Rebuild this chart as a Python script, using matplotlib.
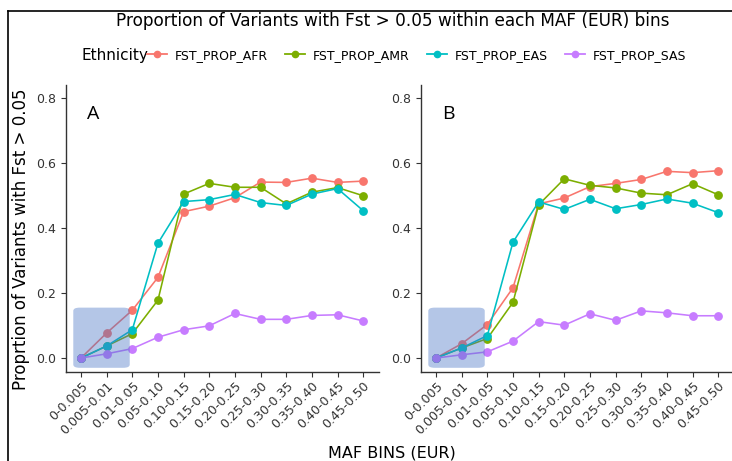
import matplotlib.pyplot as plt
from matplotlib.patches import FancyBboxPatch
from matplotlib.lines import Line2D

# MAF bins on the x axis
bins = ["0-0.005", "0.005-0.01", "0.01-0.05", "0.05-0.10", "0.10-0.15", "0.15-0.20",
        "0.20-0.25", "0.25-0.30", "0.30-0.35", "0.35-0.40", "0.40-0.45", "0.45-0.50"]

# Panel A
afr_a = [0.0, 0.077, 0.147, 0.248, 0.450, 0.467, 0.493, 0.541, 0.540, 0.553, 0.540, 0.544]
amr_a = [0.0, 0.037, 0.075, 0.178, 0.504, 0.537, 0.525, 0.525, 0.474, 0.510, 0.524, 0.499]
eas_a = [0.0, 0.037, 0.087, 0.353, 0.481, 0.487, 0.503, 0.478, 0.469, 0.504, 0.521, 0.453]
sas_a = [0.0, 0.013, 0.029, 0.064, 0.087, 0.099, 0.137, 0.119, 0.119, 0.131, 0.133, 0.114]

# Panel B
afr_b = [0.0, 0.044, 0.103, 0.216, 0.474, 0.492, 0.527, 0.537, 0.549, 0.574, 0.570, 0.576]
amr_b = [0.0, 0.031, 0.060, 0.171, 0.471, 0.551, 0.531, 0.523, 0.507, 0.502, 0.536, 0.502]
eas_b = [0.0, 0.031, 0.069, 0.356, 0.480, 0.457, 0.488, 0.459, 0.472, 0.489, 0.476, 0.447]
sas_b = [0.0, 0.010, 0.019, 0.052, 0.112, 0.101, 0.136, 0.116, 0.145, 0.139, 0.130, 0.130]

series_names = ["FST_PROP_AFR", "FST_PROP_AMR", "FST_PROP_EAS", "FST_PROP_SAS"]
colors = ["#F8766D", "#7CAE00", "#00BFC4", "#C77CFF"]

fig = plt.figure(figsize=(7.32, 4.61), dpi=100)

ax_a = fig.add_axes([0.0896, 0.193, 0.4276, 0.623])
ax_b = fig.add_axes([0.5746, 0.193, 0.4276, 0.623])

x = list(range(len(bins)))
panels = [(ax_a, [afr_a, amr_a, eas_a, sas_a], "A"),
          (ax_b, [afr_b, amr_b, eas_b, sas_b], "B")]

for ax, data, label in panels:
    for vals, c in zip(data, colors):
        ax.plot(x, vals, color=c, lw=1.15, marker="o", ms=5.3, zorder=3)
    # highlight box over the rare bins
    box = FancyBboxPatch((-0.3, -0.03), 2.2, 0.185,
                         boxstyle="round,pad=0,rounding_size=0.25",
                         mutation_aspect=0.04,
                         fc="#4472C4", ec="none", alpha=0.4, zorder=4)
    ax.add_patch(box)
    ax.set_xlim(-0.6, 11.6)
    ax.set_ylim(-0.043, 0.84)
    ax.set_yticks([0.0, 0.2, 0.4, 0.6, 0.8])
    ax.set_yticklabels(["0.0", "0.2", "0.4", "0.6", "0.8"])
    ax.set_xticks(x)
    ax.set_xticklabels(bins, rotation=45, ha="right", rotation_mode="anchor")
    ax.tick_params(labelsize=9, colors="#333333", length=3.5, width=0.8)
    ax.tick_params(axis="x", pad=2)
    for s in ["top", "right"]:
        ax.spines[s].set_visible(False)
    for s in ["left", "bottom"]:
        ax.spines[s].set_linewidth(1.0)
        ax.spines[s].set_color("#333333")
    ax.text(0.25, 0.735, label, fontsize=14, family="Open Sans", color="black")

ax_a.set_ylabel("Proprtion of Variants with Fst > 0.05", fontsize=12)
ax_a.yaxis.set_label_coords(-0.115, 0.462)

fig.text(0.537, 0.955, "Proportion of Variants with Fst > 0.05 within each MAF (EUR) bins",
         ha="center", va="center", fontsize=12.2)
fig.text(0.535, 0.018, "MAF BINS (EUR)", ha="center", va="center", fontsize=11.5)

# legend
fig.text(0.112, 0.88, "Ethnicity", ha="left", va="center", fontsize=11)
handles = [Line2D([], [], color=c, lw=1.3, marker="o", ms=4.5) for c in colors]
fig.legend(handles, series_names, loc="center left", bbox_to_anchor=(0.194, 0.88),
           ncol=4, frameon=False, fontsize=9, handlelength=1.6, handletextpad=0.6,
           columnspacing=1.4, borderaxespad=0)

# figure frame (top and left only, as in the reference)
fig.add_artist(Line2D([0.011, 1.0], [0.977, 0.977], color="black", lw=1.2))
fig.add_artist(Line2D([0.011, 0.011], [0.0, 0.977], color="black", lw=1.2))

fig.savefig("out.png", dpi=100)
